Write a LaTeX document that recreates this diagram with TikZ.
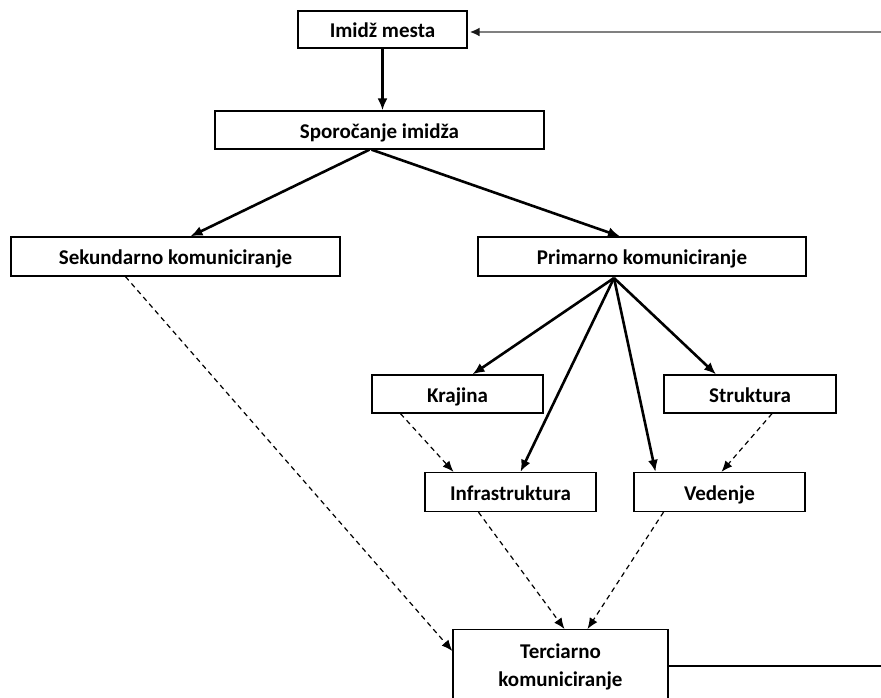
\documentclass[tikz,border=0pt]{standalone}
\usepackage{fontspec}
\setmainfont{Carlito}
\usetikzlibrary{arrows.meta}
\begin{document}
\begin{tikzpicture}[x=1pt,y=-1pt,
  box/.style={draw=black,line width=1.3pt,fill=white,inner sep=0pt,text height=17pt,text depth=0.5pt,font=\fontsize{21}{28}\selectfont\bfseries},
  solidarrow/.style={line width=2.6pt,-{Latex[length=12pt,width=10pt]}},
  dasharrow/.style={line width=1.2pt,dash pattern=on 5pt off 4pt,-{Latex[length=11pt,width=9pt]}},
  lbl/.style={inner sep=0pt,align=center,font=\fontsize{21}{28}\selectfont\bfseries}]
\useasboundingbox (0,0) rectangle (881,697);
\fill[white] (0,0) rectangle (881,697);
\node[box,minimum width=169pt,minimum height=37pt] (im) at (382.5,29.5) {Imidž mesta};
\node[box,minimum width=329pt,minimum height=38pt] (sp) at (379.5,130) {Sporočanje imidža};
\node[box,minimum width=329pt,minimum height=39pt] (sek) at (175.5,256.5) {Sekundarno komuniciranje};
\node[box,minimum width=328pt,minimum height=39pt] (pri) at (642,256.5) {Primarno komuniciranje};
\node[box,minimum width=171pt,minimum height=38pt] (kra) at (457.5,394) {Krajina};
\node[box,minimum width=172pt,minimum height=38pt] (str) at (750,394) {Struktura};
\node[box,minimum width=171pt,minimum height=39pt] (inf) at (510.5,492) {Infrastruktura};
\node[box,minimum width=171pt,minimum height=39pt] (ved) at (719.5,492) {Vedenje};
\node[box,minimum width=215pt,minimum height=100pt,anchor=north] (ter) at (560.5,629) {};
\node[lbl] (terl) at (560.5,667) {Terciarno\\komuniciranje};
\coordinate (topin) at (881,32);
\coordinate (botout) at (881,666);
% connectors
\draw[line width=2.8pt,draw=black!50,-{Latex[length=10pt,width=9pt,color=black!90]}] (topin) -- ([xshift=2pt]im.east |- topin);
\draw[solidarrow] (im.south) -- (im.south |- sp.north);
\draw[solidarrow] ([xshift=-10pt]sp.south) -- ([xshift=15pt]sek.north);
\draw[solidarrow] ([xshift=-8pt]sp.south) -- ([xshift=-22pt]pri.north);
\coordinate (fan) at (614,278);
\draw[solidarrow] (fan) -- ([xshift=15pt]kra.north);
\draw[solidarrow] (fan) -- ([xshift=10pt]inf.north);
\draw[solidarrow] (fan) -- ([xshift=-64pt]ved.north);
\draw[solidarrow] (fan) -- ([xshift=-34pt]str.north);
\draw[dasharrow] ([xshift=-50pt]sek.south) -- (ter.west |- 0,651);
\draw[dasharrow] ([xshift=-57pt]kra.south) -- ([xshift=-57pt]inf.north);
\draw[dasharrow] ([xshift=22pt]str.south) -- ([xshift=2pt]ved.north);
\draw[dasharrow] ([xshift=-32pt]inf.south) -- ([xshift=4pt]ter.north);
\draw[dasharrow] ([xshift=-56pt]ved.south) -- ([xshift=27pt]ter.north);
\draw[line width=1.3pt] (ter.east |- botout) -- (botout);
\end{tikzpicture}
\end{document}
